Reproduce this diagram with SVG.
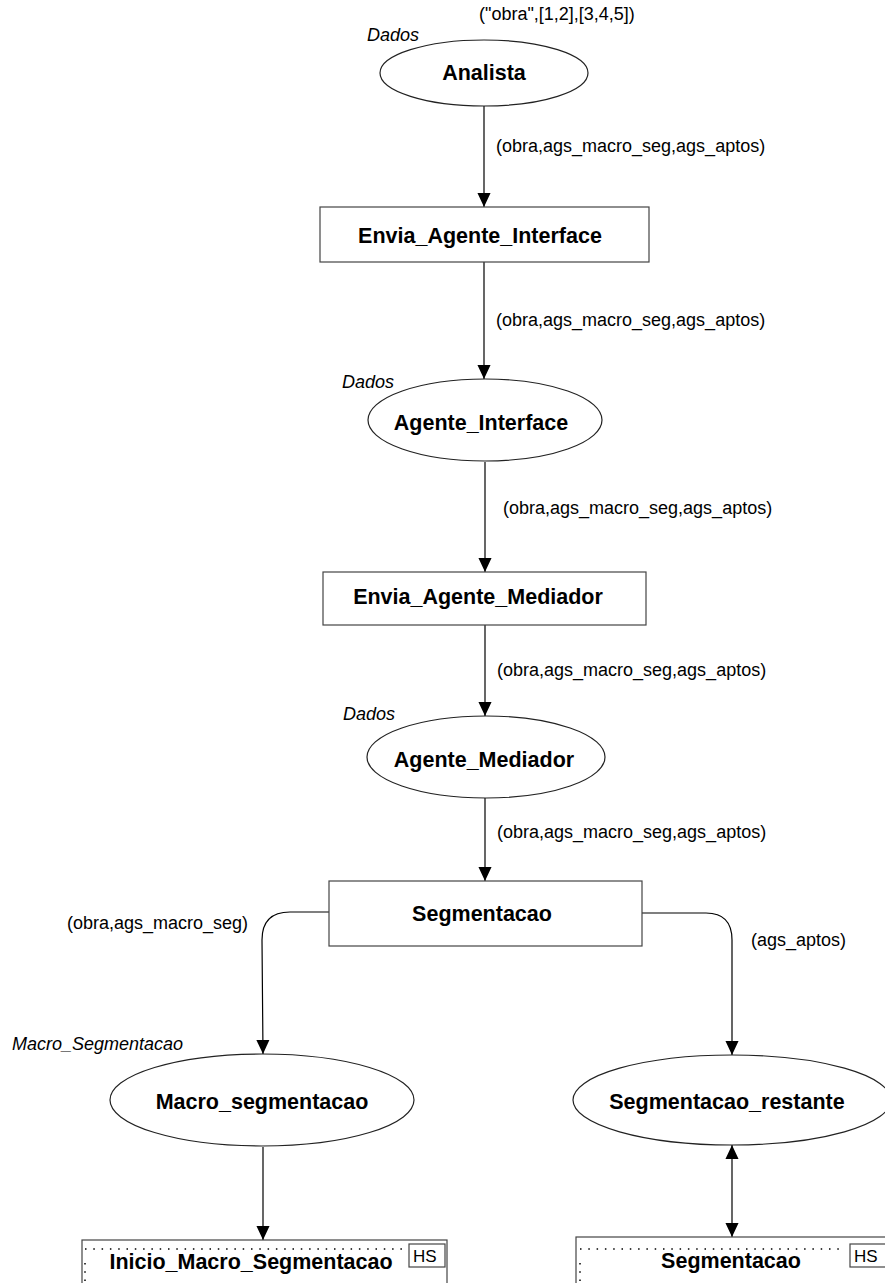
<svg xmlns="http://www.w3.org/2000/svg" width="885" height="1283" viewBox="0 0 885 1283">
  <style>
    .shape { fill: #ffffff; stroke: #222222; stroke-width: 1.2; }
    .box { fill: #ffffff; stroke: #444444; stroke-width: 1.2; }
    .name { font-family: "Liberation Sans", Arial, sans-serif; font-size: 21.5px; font-weight: bold; fill: #000000; text-anchor: middle; }
    .lbl { font-family: "Liberation Sans", Arial, sans-serif; font-size: 18px; fill: #000000; }
    .tag { font-family: "Liberation Sans", Arial, sans-serif; font-size: 18px; font-style: italic; fill: #000000; }
    .hs { font-family: "Liberation Sans", Arial, sans-serif; font-size: 17px; fill: #000000; }
    .edge { fill: none; stroke: #000000; stroke-width: 1.2; }
    .dots { fill: none; stroke: #000000; stroke-width: 1.5; stroke-dasharray: 1.5 6.8; }
  </style>
  <defs>
    <marker id="arrow" markerUnits="userSpaceOnUse" markerWidth="14" markerHeight="15" refX="15" refY="7" orient="auto-start-reverse" viewBox="0 0 15 14">
      <path d="M0,0 L15,7 L0,14 Z" fill="#000000"/>
    </marker>
  </defs>

  <rect width="885" height="1283" fill="#ffffff"/>

  <!-- connectors -->
  <g id="connectors">
    <line class="edge" x1="484" y1="106" x2="484" y2="207" marker-end="url(#arrow)"/>
    <line class="edge" x1="484" y1="262" x2="484" y2="379" marker-end="url(#arrow)"/>
    <line class="edge" x1="485" y1="462" x2="485" y2="572" marker-end="url(#arrow)"/>
    <line class="edge" x1="485" y1="625" x2="485" y2="716" marker-end="url(#arrow)"/>
    <line class="edge" x1="485" y1="798" x2="485" y2="881" marker-end="url(#arrow)"/>
    <path class="edge" d="M329,912 H290 Q262,912 262,940 L263,1054" marker-end="url(#arrow)"/>
    <path class="edge" d="M642,913 H706 Q732,913 732,940 V1055" marker-end="url(#arrow)"/>
    <line class="edge" x1="263" y1="1147" x2="263" y2="1240" marker-end="url(#arrow)"/>
    <line class="edge" x1="732" y1="1145" x2="732" y2="1237" marker-start="url(#arrow)" marker-end="url(#arrow)"/>

    <text class="lbl" x="496" y="152">(obra,ags_macro_seg,ags_aptos)</text>
    <text class="lbl" x="496" y="326">(obra,ags_macro_seg,ags_aptos)</text>
    <text class="lbl" x="503" y="514">(obra,ags_macro_seg,ags_aptos)</text>
    <text class="lbl" x="497" y="676">(obra,ags_macro_seg,ags_aptos)</text>
    <text class="lbl" x="497" y="838">(obra,ags_macro_seg,ags_aptos)</text>
    <text class="lbl" x="67" y="929">(obra,ags_macro_seg)</text>
    <text class="lbl" x="751" y="946">(ags_aptos)</text>
  </g>

  <!-- places and transitions -->
  <g id="analista">
    <text class="lbl" x="479" y="20">("obra",[1,2],[3,4,5])</text>
    <text class="tag" x="367" y="41">Dados</text>
    <ellipse class="shape" cx="484" cy="73" rx="104" ry="33"/>
    <text class="name" x="484" y="80">Analista</text>
  </g>

  <g id="envia_agente_interface">
    <rect class="box" x="320" y="207" width="329" height="55"/>
    <text class="name" x="480" y="243">Envia_Agente_Interface</text>
  </g>

  <g id="agente_interface">
    <text class="tag" x="342" y="388">Dados</text>
    <ellipse class="shape" cx="485" cy="420" rx="117" ry="41"/>
    <text class="name" x="481" y="430">Agente_Interface</text>
  </g>

  <g id="envia_agente_mediador">
    <rect class="box" x="323" y="572" width="323" height="53"/>
    <text class="name" x="478" y="604">Envia_Agente_Mediador</text>
  </g>

  <g id="agente_mediador">
    <text class="tag" x="343" y="720">Dados</text>
    <ellipse class="shape" cx="486" cy="757" rx="119" ry="41"/>
    <text class="name" x="484" y="767">Agente_Mediador</text>
  </g>

  <g id="segmentacao">
    <rect class="box" x="329" y="881" width="313" height="65"/>
    <text class="name" x="482" y="921">Segmentacao</text>
  </g>

  <g id="macro_segmentacao">
    <text class="tag" x="12" y="1050">Macro_Segmentacao</text>
    <ellipse class="shape" cx="262" cy="1100" rx="152" ry="46"/>
    <text class="name" x="262" y="1109">Macro_segmentacao</text>
  </g>

  <g id="segmentacao_restante">
    <ellipse class="shape" cx="732" cy="1100" rx="159" ry="45"/>
    <text class="name" x="727" y="1109">Segmentacao_restante</text>
  </g>

  <!-- substitution transitions -->
  <g id="inicio_macro_segmentacao">
    <rect class="box" x="82" y="1240" width="365" height="60"/>
    <line class="dots" x1="85" y1="1249" x2="405" y2="1249"/>
    <line class="dots" x1="85" y1="1263" x2="85" y2="1290"/>
    <rect class="box" x="409" y="1244" width="36" height="23"/>
    <text class="hs" x="413" y="1262">HS</text>
    <text class="name" x="251" y="1269">Inicio_Macro_Segmentacao</text>
  </g>

  <g id="segmentacao_hs">
    <rect class="box" x="576" y="1237" width="320" height="60"/>
    <line class="dots" x1="580" y1="1249" x2="845" y2="1249"/>
    <line class="dots" x1="580" y1="1263" x2="580" y2="1290"/>
    <rect class="box" x="850" y="1244" width="40" height="23"/>
    <text class="hs" x="854" y="1262">HS</text>
    <text class="name" x="731" y="1268">Segmentacao</text>
  </g>
</svg>
